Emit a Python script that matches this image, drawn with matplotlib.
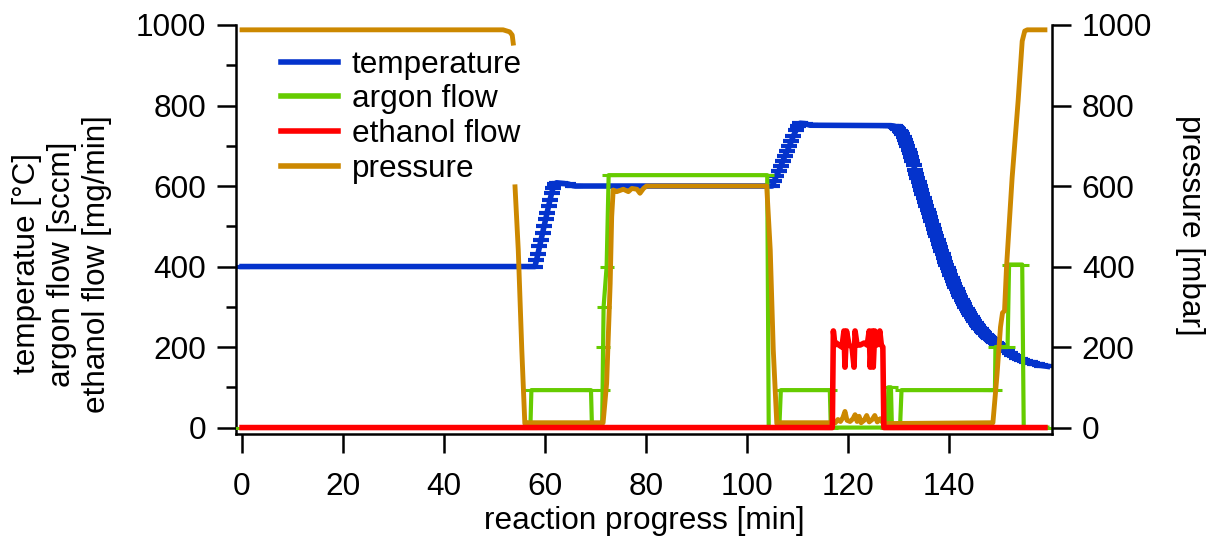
import numpy as np
import matplotlib
matplotlib.use("Agg")
import matplotlib.pyplot as plt
from matplotlib.lines import Line2D

plt.rcParams['font.family'] = ['Liberation Sans', 'DejaVu Sans']
FS = 22.7
plt.rcParams['font.size'] = FS

# ---------------- data ----------------
# temperature [°C]
t_temp = [0, 58.0, 58.3, 58.6, 58.9, 59.2, 59.5, 59.8, 60.1, 60.4, 60.7, 61.0, 61.3, 61.6, 61.9,
          62.3, 63.0, 64.6, 65.5, 66.0,
          105.0, 105.4, 105.8, 106.3, 106.7, 107.1, 107.5, 108.0, 108.4, 108.8, 109.2, 109.7,
          110.1, 110.5, 111.5, 112.5,
          128.0, 128.5, 129.0, 129.25, 129.5, 129.75, 130.0, 130.25, 130.5, 130.75,
          131.0, 131.25, 131.5, 131.75, 132.0, 132.25, 132.5, 132.75,
          133.0, 133.25, 133.5, 133.75, 134.0, 134.25, 134.5, 134.75,
          135.0, 135.25, 135.5, 135.75, 136.0, 136.25, 136.5, 136.75,
          137.0, 137.25, 137.5, 137.75, 138.0, 138.25, 138.5, 138.75,
          139.0, 139.25, 139.5, 139.75, 140.0, 140.25, 140.5, 140.75,
          141.0, 141.25, 141.5, 141.75, 142.0, 142.25, 142.5, 142.75,
          143.0, 143.25, 143.5, 143.75, 144.0, 144.25, 144.5, 144.75,
          145.0, 145.25, 145.5, 145.75, 146.0, 146.25, 146.5, 146.75,
          147.0, 147.25, 147.5, 147.75, 148.0, 148.25, 148.5, 148.75,
          149.0, 149.25, 149.5, 149.75, 150.0, 150.5, 151.0, 151.5,
          152.0, 152.5, 153.0, 153.5, 154.0, 154.5, 155.0, 155.5, 156.0, 156.5, 157.0, 157.5,
          158.0, 158.5, 159.0, 159.5]
v_temp = [400, 400, 415, 432, 450, 467, 483, 500, 517, 533, 550, 566, 582, 596, 605,
          608, 607, 605, 601, 600,
          600, 612, 625, 637, 650, 662, 675, 688, 700, 712, 725, 738,
          750, 756, 755, 751,
          750, 750, 749, 748, 746, 744, 741, 737, 733, 728,
          722, 715, 707, 699, 690, 681, 671, 661,
          651, 641, 631, 621, 611, 601, 591, 581,
          571, 561, 551, 541, 532, 522, 513, 503,
          494, 484, 475, 466, 457, 448, 439, 430,
          421, 412, 404, 396, 388, 380, 372, 364,
          357, 350, 343, 336, 330, 324, 318, 312,
          306, 300, 295, 289, 284, 279, 274, 269,
          265, 260, 256, 252, 248, 244, 241, 237,
          234, 231, 228, 225, 222, 219, 217, 214,
          212, 209, 207, 204, 202, 198, 193, 189,
          185, 181, 177, 174, 171, 168, 166, 164, 162, 160, 158, 157,
          155, 154, 153, 152]

# argon flow [sccm]
t_ar = [0, 57.1, 57.3, 69.1, 69.3, 71.3, 71.4, 71.5, 71.6, 72.2, 72.6, 104.0, 104.3,
        106.4, 106.7, 116.4, 116.6, 127.8, 128.0, 128.5, 128.7, 130.3, 130.6, 148.1,
        149.1, 149.2, 151.6, 151.9, 154.5, 154.8, 159.5]
v_ar = [0, 0, 93, 93, 0, 0, 93, 200, 300, 400, 627, 627, 0,
        0, 93, 93, 0, 0, 100, 100, 0, 0, 93, 93,
        93, 200, 200, 405, 405, 0, 0]

# ethanol flow [mg/min]
t_eth = [0, 116.9, 117.1, 117.4, 117.7, 118.2, 118.8, 119.2, 119.4, 119.7, 120.2, 120.8,
         121.2, 121.4, 121.8, 122.4, 123.2, 123.8, 124.2, 124.4, 124.8, 125.0, 125.3,
         125.7, 126.3, 126.6, 126.9, 127.1, 159.0]
v_eth = [0, 0, 240, 205, 210, 205, 200, 240, 150, 240, 205, 200,
         150, 240, 205, 205, 210, 205, 240, 150, 240, 150, 240,
         205, 240, 205, 200, 0, 0]

# pressure [mbar]
t_p = [0, 51.7, 53.0, 53.5, 53.7, np.nan, 54.06, 54.7, 55.4, 56.0, 56.3, 71.5,
       72.2, 72.9, 73.2, 73.5, 74.2, 75.5, 76.5, 77.2, 78.2, 78.8, 79.5, 80.1, 103.9,
       104.6, 105.2, 105.9, 106.2, 117.5, 118.0, 118.5, 119.0, 119.4, 119.8, 120.4,
       121.0, 121.4, 121.8, 122.2, 122.6, 123.2, 123.7, 124.2, 124.8, 125.3, 125.8,
       126.4, 126.9, 127.5, 148.7, 149.5, 150.2, 150.6, 151.0, 151.4, 152.5, 153.7,
       154.5, 155.0, 155.5, 159.0]
v_p = [988, 988, 983, 975, 955, np.nan, 598, 441, 193, 10, 12, 12,
       110, 358, 524, 590, 586, 592, 586, 594, 592, 582, 594, 600, 600,
       441, 193, 10, 12, 12, 20, 15, 25, 40, 18, 15,
       22, 32, 15, 28, 12, 18, 30, 14, 20, 30, 14,
       22, 12, 10, 12, 130, 250, 285, 290, 400, 620, 813,
       960, 985, 988, 988]

labels = ["temperature", "argon flow", "ethanol flow", "pressure"]
colors = ["#0433CC", "#66CC00", "#FF0000", "#CC8800"]

# ---------------- figure ----------------
W, H = 1209, 538
fig = plt.figure(figsize=(W / 100, H / 100), dpi=100)
ax = fig.add_axes([236 / W, 1 - 434 / H, 816 / W, 409 / H])

ax.plot(t_temp, v_temp, color=colors[0], lw=4.0, marker='_', ms=11, mew=3.0, zorder=2)
ax.plot(t_ar, v_ar, color=colors[1], lw=3.0, marker='_', ms=10, mew=2.2, zorder=3)
ax.plot(t_p, v_p, color=colors[3], lw=3.5, zorder=4)
ax.plot(t_eth, v_eth, color=colors[2], lw=4.0, zorder=5)

ax.set_xlim(-1.2, 160.4)
ax.set_ylim(-16, 1000)
ax.set_xticks(np.arange(0, 141, 20))
ax.set_yticks(np.arange(0, 1001, 200))
ax.set_yticks(np.arange(100, 1000, 200), minor=True)

for s in ['top', 'right']:
    ax.spines[s].set_visible(False)
for s in ['left', 'bottom']:
    ax.spines[s].set_linewidth(1.8)

ax.tick_params(axis='both', which='major', direction='out', length=13.5, width=1.8,
               labelsize=FS)
ax.tick_params(axis='x', which='major', pad=14)
ax.tick_params(axis='y', which='major', pad=8)
ax.tick_params(axis='y', which='minor', direction='out', length=7, width=1.8)
ax.set_xlabel("reaction progress [min]", fontsize=FS, labelpad=3)

ax2 = ax.twinx()
ax2.set_ylim(-16, 1000)
ax2.set_yticks(np.arange(0, 1001, 200))
for s in ['top', 'left', 'bottom']:
    ax2.spines[s].set_visible(False)
ax2.spines['right'].set_linewidth(1.8)
ax2.tick_params(axis='y', which='major', direction='out', length=13.5, width=1.8, pad=8,
                labelsize=FS)

fig.text(62 / W, 1 - 264 / H, "temperatue [°C]\nargon flow [sccm]\nethanol flow [mg/min]",
         rotation=90, ha='center', va='center', multialignment='center', fontsize=FS)
fig.text(1190 / W, 1 - 225 / H, "pressure [mbar]", rotation=270, ha='center', va='center',
         fontsize=FS)

handles = [Line2D([], [], color=c, lw=4.0) for c in colors]
leg = ax.legend(handles, labels, loc='upper left', bbox_to_anchor=(0.055, 0.94),
                frameon=False, borderpad=0, borderaxespad=0, handlelength=1.8,
                handletextpad=0.45, labelspacing=0.15, fontsize=FS)

fig.savefig("out.png", dpi=100)
